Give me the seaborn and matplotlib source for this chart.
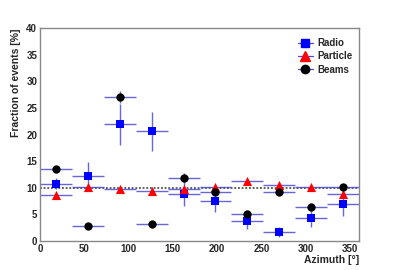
import numpy as np
import pandas as pd
import matplotlib
matplotlib.use("Agg")
import matplotlib.pyplot as plt
import seaborn as sns
from matplotlib.lines import Line2D
from matplotlib.ticker import MultipleLocator

# --- Data (azimuth bins of 36 deg) ---
azimuth = [18, 54, 90, 126, 162, 198, 234, 270, 306, 342]
bin_half = 18

radio = [10.8, 12.2, 21.9, 20.6, 8.9, 7.6, 3.7, 1.7, 4.3, 6.9]
radio_err = [1.0, 2.7, 3.8, 3.6, 2.4, 2.1, 1.5, 1.0, 1.7, 2.2]

particle = [8.7, 10.2, 9.8, 9.5, 9.7, 10.1, 11.2, 10.6, 10.1, 8.9]
particle_err = [0.3, 0.3, 0.3, 0.3, 0.3, 0.3, 0.3, 0.3, 0.3, 0.3]

beams = [13.5, 2.8, 27.1, 3.3, 11.9, 9.2, 5.1, 9.2, 6.4, 10.2]
beams_err = [0.6, 0.4, 1.1, 0.4, 0.8, 0.6, 0.5, 0.6, 0.5, 0.6]

series_names = ["Radio", "Particle", "Beams"]
uniform_level = 10

# --- Build long table for seaborn ---
frames = []
for name, vals, errs in zip(series_names, [radio, particle, beams],
                            [radio_err, particle_err, beams_err]):
    frames.append(pd.DataFrame({"Azimuth": azimuth, "Fraction": vals,
                                "Err": errs, "Sample": name}))
df = pd.concat(frames, ignore_index=True)

sns.set_style("white")
plt.rcParams["font.family"] = ["Liberation Sans", "DejaVu Sans"]

fig = plt.figure(figsize=(3.99, 2.70), dpi=100)
ax = fig.add_axes([0.1, 0.107, 0.8, 0.789])

err_color = "#4b4bd2"
styles = {"Radio": ("s", "#0000ff", 5.6),
          "Particle": ("^", "#ff0000", 6.6),
          "Beams": ("o", "#000000", 6.0)}

# dotted uniform line
ax.axhline(uniform_level, color="#333333", lw=1.1, ls=(0, (1.2, 1.2)), zorder=1)

# error bars
for name in series_names:
    sub = df[df["Sample"] == name]
    ax.errorbar(sub["Azimuth"], sub["Fraction"], xerr=bin_half, yerr=sub["Err"],
                fmt="none", ecolor=err_color, elinewidth=1.0, capsize=0,
                alpha=0.85, zorder=2)

# markers
for name in series_names:
    m, c, s = styles[name]
    sub = df[df["Sample"] == name]
    sns.scatterplot(data=sub, x="Azimuth", y="Fraction", marker=m, color=c,
                    s=s ** 2, edgecolor=c, linewidth=0, ax=ax, zorder=3,
                    legend=False)

ax.set_xlim(0, 360)
ax.set_ylim(0, 40)
ax.xaxis.set_major_locator(MultipleLocator(50))
ax.xaxis.set_minor_locator(MultipleLocator(10))
ax.yaxis.set_major_locator(MultipleLocator(5))
ax.yaxis.set_minor_locator(MultipleLocator(1))
ax.tick_params(which="major", direction="in", length=6, width=0.8,
               color="#555555", labelsize=7, pad=2, top=False, right=False)
ax.tick_params(which="minor", direction="in", length=3, width=0.8,
               color="#555555", top=False, right=False)
for lab in ax.get_xticklabels() + ax.get_yticklabels():
    lab.set_fontweight("bold")
for sp in ax.spines.values():
    sp.set_color("#888888")
    sp.set_linewidth(1.0)

ax.set_xlabel("Azimuth [°]", fontsize=7.5, fontweight="bold", loc="right",
              labelpad=1)
ax.set_ylabel("Fraction of events [%]", fontsize=7.5, fontweight="bold",
              loc="top", labelpad=4)

handles = []
for name in series_names:
    m, c, s = styles[name]
    handles.append(Line2D([0], [0], color=err_color, lw=0.9, marker=m,
                          markerfacecolor=c, markeredgecolor=c, markersize=s))
ax.legend(handles, series_names, loc="upper right", frameon=False,
          prop={"size": 7, "weight": "bold"}, handlelength=1.6,
          handletextpad=0.4, labelspacing=0.35, borderaxespad=0.3,
          bbox_to_anchor=(1.0, 0.985))

fig.savefig("out.png", dpi=100)
